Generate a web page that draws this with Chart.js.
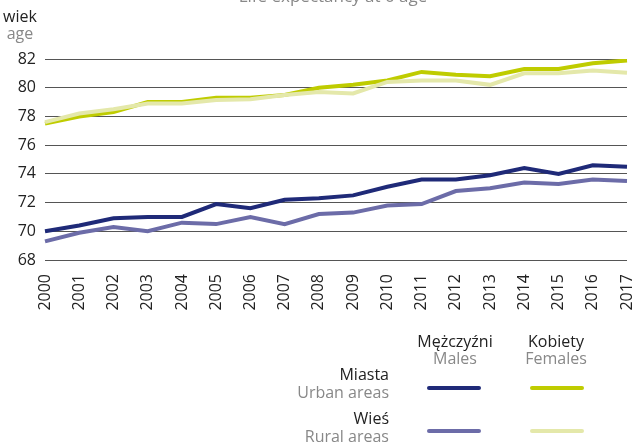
<!DOCTYPE html>
<html>
<head>
<meta charset="utf-8">
<script src="https://cdn.jsdelivr.net/npm/chart.js@4"></script>
<style>
  body { margin: 0; background: #fff; font-family: "Open Sans", sans-serif; }
  #wrap { position: relative; width: 633px; height: 444px; overflow: hidden; }
  canvas { position: absolute; left: 0; top: 0; }
  .txt { position: absolute; white-space: nowrap; font-size: 16px; line-height: 18px; }
  .pl { color: #222; }
  .en { color: #888; }
  .key { position: absolute; height: 4px; border-radius: 2px; width: 54px; }
</style>
</head>
<body>
<div id="wrap">
  <canvas id="lifeChart" width="633" height="444"></canvas>
  <div class="txt en" style="left:0; width:666px; text-align:center; top:-13px; font-size:17px;">Life expectancy at 0 age</div>
  <div class="txt pl" style="left:0; width:40px; text-align:center; top:7px;">wiek</div>
  <div class="txt en" style="left:0; width:40px; text-align:center; top:24px;">age</div>

  <div class="txt pl" style="left:405px; width:100px; text-align:center; top:332px;">Mężczyźni</div>
  <div class="txt en" style="left:405px; width:100px; text-align:center; top:349px;">Males</div>
  <div class="txt pl" style="left:506px; width:100px; text-align:center; top:332px;">Kobiety</div>
  <div class="txt en" style="left:506px; width:100px; text-align:center; top:349px;">Females</div>

  <div class="txt pl" style="right:244px; text-align:right; top:365px;">Miasta</div>
  <div class="txt en" style="right:244px; text-align:right; top:383px;">Urban areas</div>
  <div class="txt pl" style="right:244px; text-align:right; top:409px;">Wieś</div>
  <div class="txt en" style="right:244px; text-align:right; top:427px;">Rural areas</div>

  <div class="key" style="left:427px; top:386px; background:#1f2a78;"></div>
  <div class="key" style="left:530px; top:386px; background:#bfcc00;"></div>
  <div class="key" style="left:427px; top:429px; background:#6c6ca8;"></div>
  <div class="key" style="left:530px; top:429px; background:#e4e8aa;"></div>
</div>
<script>
// Years on the x axis
const years = ["2000", "2001", "2002", "2003", "2004", "2005", "2006", "2007", "2008",
  "2009", "2010", "2011", "2012", "2013", "2014", "2015", "2016", "2017"];

// Life expectancy at birth
const urbanMales = [70.0, 70.4, 70.9, 71.0, 71.0, 71.9, 71.6, 72.2, 72.3, 72.5, 73.1, 73.6, 73.6, 73.9, 74.4, 74.0, 74.6, 74.5];
const ruralMales = [69.3, 69.9, 70.3, 70.0, 70.6, 70.5, 71.0, 70.5, 71.2, 71.3, 71.8, 71.9, 72.8, 73.0, 73.4, 73.3, 73.6, 73.5];
const urbanFemales = [77.5, 78.0, 78.3, 79.0, 79.0, 79.3, 79.3, 79.5, 80.0, 80.2, 80.5, 81.1, 80.9, 80.8, 81.3, 81.3, 81.7, 81.9];
const ruralFemales = [77.6, 78.2, 78.5, 78.9, 78.9, 79.15, 79.2, 79.5, 79.7, 79.6, 80.4, 80.5, 80.5, 80.2, 81.0, 81.0, 81.2, 81.05];

// y axis range
const yMin = 68;
const yMax = 82;
const yStep = 2;

const font = { family: "'Open Sans', sans-serif", size: 16 };

function lineSet(label, data, color) {
  return {
    label: label,
    data: data,
    borderColor: color,
    backgroundColor: color,
    borderWidth: 4,
    pointRadius: 0,
    tension: 0,
    fill: false,
  };
}

const ctx = document.getElementById("lifeChart").getContext("2d");
new Chart(ctx, {
  type: "line",
  data: {
    labels: years,
    datasets: [
      lineSet("Wieś Kobiety", ruralFemales, "#e4e8aa"),
      lineSet("Miasta Kobiety", urbanFemales, "#bfcc00"),
      lineSet("Wieś Mężczyźni", ruralMales, "#6c6ca8"),
      lineSet("Miasta Mężczyźni", urbanMales, "#1f2a78"),
    ],
  },
  options: {
    responsive: false,
    animation: false,
    layout: { padding: { top: 59, right: 6, left: 0, bottom: 0 } },
    plugins: {
      legend: { display: false },
      tooltip: { enabled: false },
    },
    scales: {
      x: {
        offset: false,
        grid: { display: false },
        border: { display: false },
        ticks: {
          color: "#222",
          font: font,
          minRotation: 90,
          maxRotation: 90,
          autoSkip: false,
          padding: 6,
        },
        afterFit: (scale) => {
          scale.height = 184;
          scale.paddingRight = 0;
          scale.paddingLeft = 0;
        },
      },
      y: {
        min: yMin,
        max: yMax,
        grid: { color: "#555", drawTicks: false, lineWidth: 1 },
        border: { display: false },
        ticks: {
          stepSize: yStep,
          color: "#222",
          font: font,
          padding: 9,
        },
        afterFit: (scale) => { scale.width = 45; },
      },
    },
  },
});
</script>
</body>
</html>
